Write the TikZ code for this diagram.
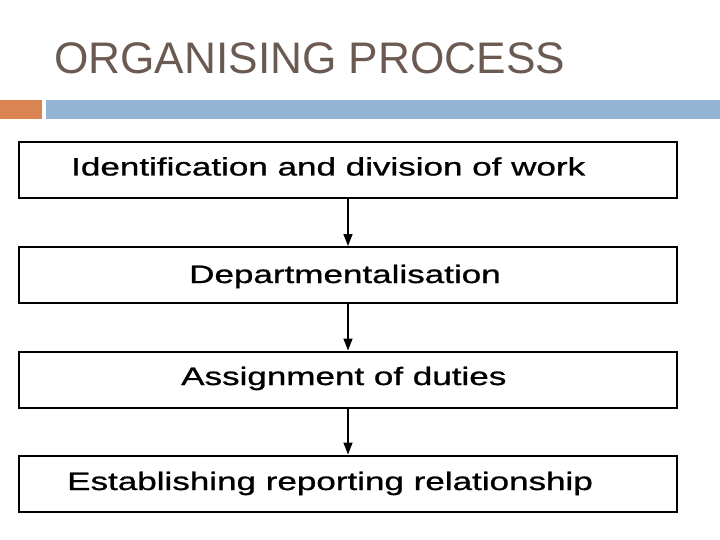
\documentclass[tikz,border=0pt]{standalone}
\usepackage{fontspec}
\setmainfont{Liberation Sans}
\newfontfamily\boxfont[FakeBold=0.8]{Liberation Sans}
\usetikzlibrary{arrows.meta}
\definecolor{titlecol}{HTML}{6B5A52}
\definecolor{barorange}{HTML}{DA8452}
\definecolor{barblue}{HTML}{93B4D2}
\tikzset{
  stepbox/.style={draw=black, line width=2pt, minimum width=658pt, minimum height=56pt, inner sep=0pt},
  steptext/.style={anchor=base west, inner sep=0pt, text=black},
  flowarrow/.style={line width=1.5pt, -{Triangle[length=12pt,width=9pt]}}
}
\newcommand{\boxtxt}[1]{\scalebox{1.39}[1]{\boxfont\fontsize{25.2}{30}\selectfont #1}}
\begin{document}
\begin{tikzpicture}[x=1pt,y=-1pt]
\useasboundingbox (0,0) rectangle (720,540);
\fill[white] (0,0) rectangle (720,540);
% title
\node[anchor=base west, inner sep=0pt, text=titlecol, font=\fontsize{44.2}{50}\selectfont] (title) at (54,73.5) {ORGANISING PROCESS};
% bars
\fill[barorange] (0,100) rectangle (42,119);
\fill[barblue] (46,100) rectangle (720,119);
% boxes
\node[stepbox] (b1) at (348,170) {};
\node[stepbox] (b2) at (348,275) {};
\node[stepbox] (b3) at (348,379.5) {};
\node[stepbox] (b4) at (348,483.5) {};
% texts
\node[steptext] (t1) at (71,175.5) {\boxtxt{Identification and division of work}};
\node[steptext] (t2) at (189,283) {\boxtxt{Departmentalisation}};
\node[steptext] (t3) at (181,385) {\boxtxt{Assignment of duties}};
\node[steptext] (t4) at (67,490) {\boxtxt{Establishing reporting relationship}};
% arrows
\draw[flowarrow] (b1.south) -- (b2.north);
\draw[flowarrow] (b2.south) -- (b3.north);
\draw[flowarrow] (b3.south) -- (b4.north);
\end{tikzpicture}
\end{document}
